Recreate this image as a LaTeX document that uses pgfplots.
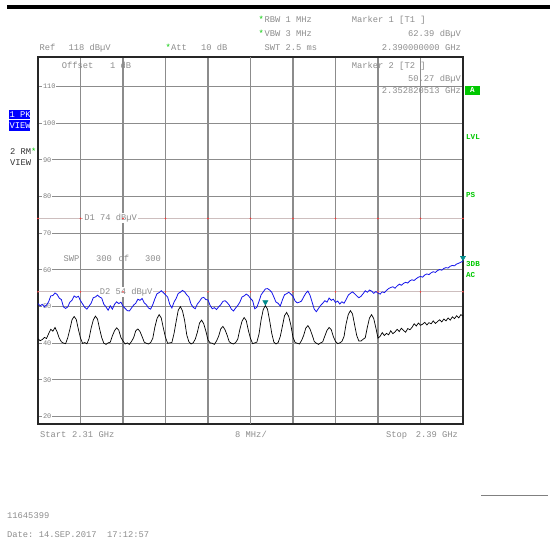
\documentclass[border=0pt]{standalone}
\usepackage{pgfplots}
\pgfplotsset{compat=1.18}
\usepackage{fontspec}
\setmonofont{Liberation Mono}
\definecolor{tgray}{RGB}{140,140,140}
\definecolor{scrgreen}{RGB}{0,200,0}
\definecolor{trblue}{RGB}{20,20,235}
\definecolor{mkteal}{RGB}{0,140,140}
\definecolor{dline}{RGB}{205,190,190}
\newcommand\mono{\fontsize{8.8}{10}\selectfont\ttfamily}
\newcommand\smono{\fontsize{7.6}{9}\selectfont\ttfamily\bfseries}
\begin{document}
\begin{tikzpicture}
\path[use as bounding box] (0,0) rectangle (550bp,551bp);
\begin{axis}[
  at={(38bp,127bp)}, anchor=south west,
  scale only axis, width=425bp, height=367bp,
  xmin=2310, xmax=2390, ymin=18, ymax=118,
  xtick={2310,2318,...,2390}, xticklabels={},
  ytick={20,30,...,110},
  yticklabels={20,30,40,50,60,70,80,90,100,110},
  major tick length=0pt,
  grid=major, major grid style={gray!90, line width=1.05bp},
  axis line style={black!85, line width=1.5bp},
  yticklabel style={anchor=west, xshift=4bp, fill=white, inner sep=0.8bp, text=gray, font=\fontsize{7}{8}\selectfont\ttfamily},
  extra x ticks={2350}, extra x tick labels={},
  extra x tick style={grid style={black, line width=1.4bp}},
  clip=false,
]
% display lines D1 and D2
\addplot[dline, line width=1bp] coordinates {(2310,74) (2390,74)};
\addplot[dline, line width=1bp] coordinates {(2310,54) (2390,54)};
\addplot[only marks, mark=*, mark size=0.5bp, red!80] coordinates {
(2310,74) (2318,74) (2326,74) (2334,74) (2342,74) (2350,74) (2358,74) (2366,74) (2374,74) (2382,74) (2390,74)
(2310,54) (2318,54) (2326,54) (2334,54) (2342,54) (2350,54) (2358,54) (2366,54) (2374,54) (2382,54) (2390,54)};
\node[fill=white, inner sep=1bp, anchor=west, text=tgray, font=\mono] at (axis cs:2318.5,74) {D1 74 dB\char"00B5V};
\node[fill=white, inner sep=1bp, anchor=west, text=tgray, font=\mono] at (axis cs:2321.4,54) {D2 54 dB\char"00B5V};
% trace 2 (black, RM)
\addplot[black, line width=0.7bp] table {
2310.0 41.2
2310.4 40.7
2310.8 41.0
2311.2 41.6
2311.6 41.3
2312.0 42.6
2312.4 43.8
2312.8 43.3
2313.2 44.3
2313.6 43.1
2314.0 41.4
2314.4 40.4
2314.8 40.05
2315.2 39.9
2315.6 41.5
2316.0 43.8
2316.4 46.4
2316.8 47.3
2317.2 46.5
2317.6 43.8
2318.0 41.4
2318.4 39.95
2318.8 40.2
2319.2 39.85
2319.6 41.2
2320.0 44.1
2320.4 46.3
2320.8 47.4
2321.2 46.6
2321.6 43.9
2322.0 41.5
2322.4 40.0
2322.8 39.7
2323.2 40.1
2323.6 40.3
2324.0 42.0
2324.4 43.4
2324.8 44.2
2325.2 43.6
2325.6 41.6
2326.0 40.6
2326.4 39.8
2326.8 40.1
2327.2 39.7
2327.6 40.5
2328.0 41.5
2328.4 43.4
2328.8 43.9
2329.2 43.2
2329.6 41.8
2330.0 40.3
2330.4 40.0
2330.8 39.8
2331.2 40.2
2331.6 41.3
2332.0 44.4
2332.4 46.7
2332.8 47.8
2333.2 46.9
2333.6 44.1
2334.0 41.6
2334.4 40.0
2334.8 40.1
2335.2 40.2
2335.6 42.6
2336.0 45.9
2336.4 49.0
2336.8 50.0
2337.2 48.8
2337.6 46.2
2338.0 42.3
2338.4 40.4
2338.8 39.8
2339.2 40.1
2339.6 41.1
2340.0 43.0
2340.4 45.5
2340.8 46.3
2341.2 45.3
2341.6 43.3
2342.0 40.9
2342.4 40.1
2342.8 40.0
2343.2 39.7
2343.6 40.6
2344.0 41.9
2344.4 43.9
2344.8 44.6
2345.2 43.7
2345.6 42.2
2346.0 40.4
2346.4 40.0
2346.8 39.8
2347.2 40.2
2347.6 41.1
2348.0 43.8
2348.4 46.0
2348.8 47.0
2349.2 46.2
2349.6 43.5
2350.0 41.3
2350.4 39.9
2350.8 40.1
2351.2 40.3
2351.6 42.5
2352.0 46.4
2352.4 49.2
2352.8 50.27
2353.2 49.3
2353.6 46.2
2354.0 42.7
2354.4 40.3
2354.8 39.8
2355.2 40.2
2355.6 41.8
2356.0 44.6
2356.4 47.5
2356.8 48.4
2357.2 47.3
2357.6 44.9
2358.0 41.6
2358.4 40.2
2358.8 40.0
2359.2 39.8
2359.6 40.7
2360.0 42.1
2360.4 44.1
2360.8 44.8
2361.2 43.9
2361.6 42.3
2362.0 40.5
2362.4 40.0
2362.8 39.7
2363.2 40.1
2363.6 40.4
2364.0 42.0
2364.4 43.5
2364.8 44.3
2365.2 43.7
2365.6 41.8
2366.0 40.5
2366.4 39.9
2366.8 40.1
2367.2 40.5
2367.6 41.8
2368.0 45.3
2368.4 47.8
2368.8 48.9
2369.2 48.0
2369.6 45.0
2370.0 42.1
2370.4 40.6
2370.8 40.6
2371.2 41.1
2371.6 41.5
2372.0 44.4
2372.4 46.9
2372.8 47.8
2373.2 46.7
2373.6 44.2
2374.0 41.4
2374.4 41.9
2374.8 42.9
2375.2 42.1
2375.6 42.7
2376.0 42.3
2376.4 43.4
2376.8 42.6
2377.2 43.1
2377.6 43.8
2378.0 43.2
2378.4 44.1
2378.8 43.5
2379.2 43.0
2379.6 44.0
2380.0 43.7
2380.4 44.3
2380.8 45.3
2381.2 44.7
2381.6 45.5
2382.0 44.9
2382.4 45.2
2382.8 45.7
2383.2 45.0
2383.6 45.6
2384.0 45.3
2384.4 46.1
2384.8 45.4
2385.2 45.9
2385.6 46.4
2386.0 45.8
2386.4 46.6
2386.8 46.1
2387.2 46.9
2387.6 46.3
2388.0 47.2
2388.4 46.7
2388.8 47.5
2389.2 46.9
2389.6 47.8
2390.0 47.4
};
% trace 1 (blue, PK)
\addplot[trblue, line width=0.8bp] table {
2310.0 50.8
2310.4 50.2
2310.8 50.6
2311.2 49.9
2311.6 50.4
2312.0 51.3
2312.4 52.9
2312.8 53.0
2313.2 53.7
2313.6 53.3
2314.0 52.3
2314.4 51.9
2314.8 49.9
2315.2 49.5
2315.6 49.9
2316.0 51.2
2316.4 51.7
2316.8 52.9
2317.2 52.5
2317.6 52.8
2318.0 51.6
2318.4 50.7
2318.8 49.8
2319.2 49.3
2319.6 50.1
2320.0 50.9
2320.4 52.4
2320.8 52.6
2321.2 53.1
2321.6 52.6
2322.0 52.3
2322.4 50.6
2322.8 49.9
2323.2 49.0
2323.6 50.2
2324.0 49.3
2324.4 50.6
2324.8 51.3
2325.2 50.8
2325.6 51.2
2326.0 50.1
2326.4 49.5
2326.8 48.9
2327.2 48.8
2327.6 49.6
2328.0 50.4
2328.4 50.9
2328.8 52.0
2329.2 51.7
2329.6 52.2
2330.0 51.0
2330.4 50.5
2330.8 49.6
2331.2 49.3
2331.6 50.5
2332.0 52.1
2332.4 53.5
2332.8 53.8
2333.2 54.3
2333.6 53.8
2334.0 53.2
2334.4 52.6
2334.8 50.6
2335.2 49.6
2335.6 51.2
2336.0 52.2
2336.4 53.6
2336.8 53.9
2337.2 54.4
2337.6 54.0
2338.0 53.2
2338.4 52.6
2338.8 50.7
2339.2 49.8
2339.6 49.4
2340.0 50.7
2340.4 51.4
2340.8 52.3
2341.2 52.5
2341.6 51.9
2342.0 51.8
2342.4 50.3
2342.8 49.4
2343.2 49.7
2343.6 49.2
2344.0 49.9
2344.4 50.5
2344.8 51.4
2345.2 51.6
2345.6 51.1
2346.0 50.4
2346.4 49.3
2346.8 48.8
2347.2 49.6
2347.6 50.3
2348.0 51.2
2348.4 52.6
2348.8 52.9
2349.2 53.4
2349.6 53.0
2350.0 52.2
2350.4 51.6
2350.8 49.4
2351.2 49.8
2351.6 51.4
2352.0 53.2
2352.4 54.0
2352.8 54.8
2353.2 54.9
2353.6 54.5
2354.0 53.9
2354.4 52.6
2354.8 51.2
2355.2 50.9
2355.6 50.1
2356.0 51.8
2356.4 53.2
2356.8 53.5
2357.2 53.9
2357.6 53.4
2358.0 52.8
2358.4 51.5
2358.8 51.0
2359.2 51.2
2359.6 51.5
2360.0 52.6
2360.4 53.6
2360.8 54.2
2361.2 53.1
2361.6 51.2
2362.0 49.3
2362.4 48.6
2362.8 49.5
2363.2 50.3
2363.6 50.9
2364.0 51.6
2364.4 51.2
2364.8 52.3
2365.2 51.7
2365.6 52.0
2366.0 51.1
2366.4 51.5
2366.8 50.7
2367.2 51.3
2367.6 50.9
2368.0 51.9
2368.4 53.1
2368.8 53.6
2369.2 54.0
2369.6 53.5
2370.0 52.9
2370.4 52.4
2370.8 52.8
2371.2 53.5
2371.6 54.3
2372.0 53.9
2372.4 54.5
2372.8 54.2
2373.2 53.6
2373.6 54.1
2374.0 53.7
2374.4 53.4
2374.8 54.0
2375.2 53.8
2375.6 54.4
2376.0 54.9
2376.4 55.2
2376.8 55.4
2377.2 55.0
2377.6 55.6
2378.0 56.1
2378.4 55.8
2378.8 56.3
2379.2 56.6
2379.6 56.4
2380.0 57.0
2380.4 57.3
2380.8 57.1
2381.2 57.6
2381.6 58.0
2382.0 58.2
2382.4 58.0
2382.8 58.6
2383.2 58.9
2383.6 58.7
2384.0 59.2
2384.4 59.5
2384.8 59.3
2385.2 59.8
2385.6 60.1
2386.0 59.9
2386.4 60.4
2386.8 60.6
2387.2 60.5
2387.6 61.0
2388.0 61.2
2388.4 61.1
2388.8 61.6
2389.2 61.8
2389.6 62.1
2390.0 62.39
};
% markers
\addplot[only marks, mark=triangle*, mark size=3bp, mkteal, mark options={rotate=180, fill=mkteal, draw=mkteal}] coordinates {(2352.8,51.2) (2390,63.3)};
\end{axis}
% top black bar
\fill[black] (7bp,541.5bp) rectangle (550bp,545.5bp);
% header texts
\node[anchor=base west, inner sep=0, text=scrgreen, font=\mono] at (258.5bp,528bp) {*};
\node[anchor=base west, inner sep=0, text=tgray, font=\mono] at (264.3bp,528bp) {RBW 1 MHz};
\node[anchor=base west, inner sep=0, text=scrgreen, font=\mono] at (258.5bp,514.5bp) {*};
\node[anchor=base west, inner sep=0, text=tgray, font=\mono] at (264.3bp,514.5bp) {VBW 3 MHz};
\node[anchor=base west, inner sep=0, text=tgray, font=\mono] at (264.3bp,500.7bp) {SWT 2.5 ms};
\node[anchor=base west, inner sep=0, text=tgray, font=\mono] at (39.3bp,500.7bp) {Ref};
\node[anchor=base west, inner sep=0, text=tgray, font=\mono] at (68.3bp,500.7bp) {118 dB\char"00B5V};
\node[anchor=base west, inner sep=0, text=scrgreen, font=\mono] at (165.5bp,500.7bp) {*};
\node[anchor=base west, inner sep=0, text=tgray, font=\mono] at (171bp,500.7bp) {Att};
\node[anchor=base west, inner sep=0, text=tgray, font=\mono] at (201bp,500.7bp) {10 dB};
\node[anchor=base west, inner sep=0, text=tgray, font=\mono] at (351.7bp,528bp) {Marker 1 [T1 ]};
\node[anchor=base east, inner sep=0, text=tgray, font=\mono] at (461bp,514.5bp) {62.39 dB\char"00B5V};
\node[anchor=base east, inner sep=0, text=tgray, font=\mono] at (461bp,500.7bp) {2.390000000 GHz};
\node[anchor=base west, inner sep=0, text=tgray, font=\mono] at (61.7bp,482.3bp) {Offset};
\node[anchor=base west, inner sep=0, text=tgray, font=\mono] at (110bp,482.3bp) {1 dB};
\node[anchor=base west, inner sep=0, text=tgray, font=\mono] at (351.7bp,482.3bp) {Marker 2 [T2 ]};
\node[anchor=base east, inner sep=0, text=tgray, font=\mono] at (461bp,469.5bp) {50.27 dB\char"00B5V};
\node[anchor=base east, inner sep=0, text=tgray, font=\mono] at (461bp,457bp) {2.352820513 GHz};
\node[anchor=base west, inner sep=0, text=tgray, font=\mono] at (63.3bp,289.7bp) {SWP};
\node[anchor=base west, inner sep=0, text=tgray, font=\mono] at (96bp,289.7bp) {300};
\node[anchor=base west, inner sep=0, text=tgray, font=\mono] at (118.3bp,289.7bp) {of};
\node[anchor=base west, inner sep=0, text=tgray, font=\mono] at (145bp,289.7bp) {300};
% left trace labels
\fill[blue] (9bp,432bp) rectangle (30bp,441bp);
\fill[blue] (9bp,420bp) rectangle (30bp,430.5bp);
\node[anchor=base west, inner sep=0, text=white, font=\mono] at (9.5bp,433.5bp) {1 PK};
\node[anchor=base west, inner sep=0, text=white, font=\mono] at (9.5bp,422bp) {VIEW};
\node[anchor=base west, inner sep=0, text=black!80, font=\mono] at (10bp,396.3bp) {2 RM};
\node[anchor=base west, inner sep=0, text=scrgreen, font=\mono] at (31bp,396.3bp) {*};
\node[anchor=base west, inner sep=0, text=black!80, font=\mono] at (10bp,385bp) {VIEW};
% right green labels
\fill[scrgreen] (465bp,456bp) rectangle (480bp,465bp);
\node[anchor=center, inner sep=0, text=white, font=\smono] at (472.5bp,460.5bp) {A};
\node[anchor=base west, inner sep=0, text=scrgreen, font=\smono] at (466bp,411.3bp) {LVL};
\node[anchor=base west, inner sep=0, text=scrgreen, font=\smono] at (466bp,353.7bp) {PS};
\node[anchor=base west, inner sep=0, text=scrgreen, font=\smono] at (466bp,284.7bp) {3DB};
\node[anchor=base west, inner sep=0, text=scrgreen, font=\smono] at (466bp,273bp) {AC};
% bottom axis texts
\node[anchor=base west, inner sep=0, text=tgray, font=\mono] at (40bp,113.7bp) {Start};
\node[anchor=base west, inner sep=0, text=tgray, font=\mono] at (72bp,113.7bp) {2.31 GHz};
\node[anchor=base west, inner sep=0, text=tgray, font=\mono] at (235bp,113.7bp) {8 MHz/};
\node[anchor=base west, inner sep=0, text=tgray, font=\mono] at (386bp,113.7bp) {Stop};
\node[anchor=base west, inner sep=0, text=tgray, font=\mono] at (415.7bp,113.7bp) {2.39 GHz};
% footer
\draw[gray, line width=0.8bp] (481bp,56bp) -- (548bp,56bp);
\node[anchor=base west, inner sep=0, text=tgray, font=\mono] at (7bp,33bp) {11645399};
\node[anchor=base west, inner sep=0, text=tgray, font=\mono] at (7bp,14bp) {Date: 14.SEP.2017\ \ 17:12:57};
\end{tikzpicture}
\end{document}
